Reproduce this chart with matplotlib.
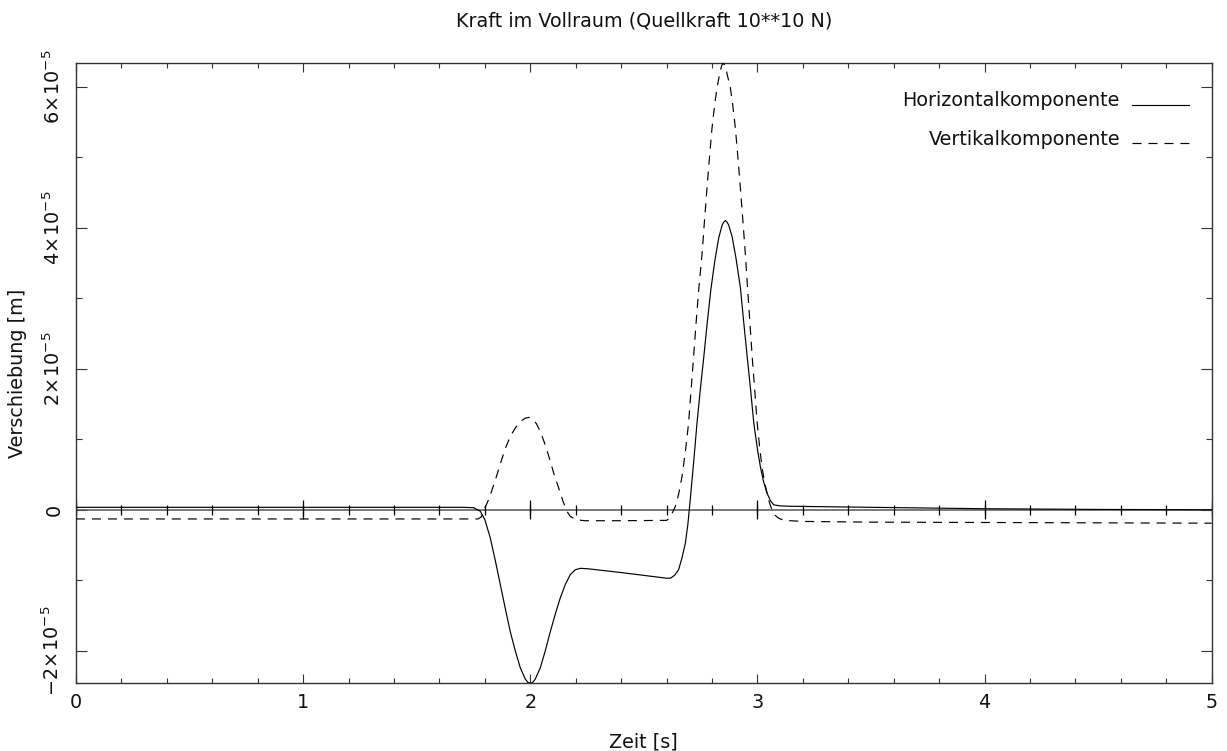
import numpy as np
import matplotlib
matplotlib.use("Agg")
import matplotlib.pyplot as plt
from matplotlib.ticker import MultipleLocator, FuncFormatter

plt.rcParams['font.family'] = ['DejaVu Sans']
plt.rcParams['mathtext.fontset'] = 'dejavusans'
plt.rcParams['lines.scale_dashes'] = False

# Displacement in units of 1e-5 m
UNIT = 1e-5

t_horiz = [0.0, 1.0, 1.70, 1.75, 1.78, 1.80, 1.824, 1.846, 1.868, 1.89, 1.912,
           1.934, 1.956, 1.978, 1.99, 2.0, 2.01, 2.022, 2.044, 2.066, 2.088, 2.11, 2.132,
           2.154, 2.176, 2.198, 2.22, 2.25, 2.4, 2.55, 2.60, 2.617, 2.635,
           2.653, 2.668, 2.683, 2.694, 2.703, 2.72, 2.734, 2.75, 2.764, 2.778,
           2.795, 2.812, 2.83, 2.845, 2.852, 2.859, 2.866, 2.873, 2.888, 2.905, 2.925, 2.94,
           2.955, 2.97, 2.984, 3.0, 3.013, 3.027, 3.042, 3.057, 3.072, 3.10,
           3.145, 3.5, 4.0, 4.5, 5.0]
v_horiz = [0.035, 0.035, 0.035, 0.03, -0.02, -0.14, -0.40, -0.72, -1.06, -1.40,
           -1.73, -2.00, -2.24, -2.40, -2.45, -2.46, -2.45, -2.40, -2.24, -2.00, -1.73, -1.48,
           -1.25, -1.06, -0.92, -0.85, -0.83, -0.835, -0.89, -0.95, -0.97, -0.97,
           -0.93, -0.85, -0.68, -0.47, -0.20, 0.10, 0.70, 1.23, 1.75, 2.17, 2.62,
           3.12, 3.52, 3.86, 4.04, 4.08, 4.10, 4.08, 4.04, 3.88, 3.58, 3.15, 2.65,
           2.17, 1.70, 1.23, 0.86, 0.61, 0.40, 0.24, 0.13, 0.07, 0.055,
           0.05, 0.035, 0.015, 0.005, 0.0]

t_vert = [0.0, 1.0, 1.77, 1.785, 1.794, 1.82, 1.846, 1.868, 1.89, 1.912, 1.934,
          1.956, 1.978, 1.993, 2.01, 2.027, 2.044, 2.066, 2.088, 2.105, 2.125,
          2.143, 2.161, 2.175, 2.19, 2.21, 2.242, 2.4, 2.6, 2.609, 2.62, 2.639,
          2.653, 2.668, 2.683, 2.697, 2.708, 2.719, 2.73, 2.741, 2.756, 2.767,
          2.778, 2.789, 2.80, 2.811, 2.822, 2.836, 2.843, 2.849, 2.855, 2.862, 2.881, 2.892,
          2.903, 2.914, 2.925, 2.936, 2.947, 2.958, 2.968, 2.977, 2.988, 2.999,
          3.01, 3.02, 3.031, 3.042, 3.053, 3.064, 3.078, 3.094, 3.116, 3.2,
          3.5, 4.0, 4.5, 5.0]
v_vert = [-0.13, -0.13, -0.13, -0.10, -0.02, 0.17, 0.42, 0.65, 0.87, 1.04, 1.16,
          1.25, 1.30, 1.31, 1.29, 1.22, 1.11, 0.92, 0.69, 0.50, 0.31,
          0.13, -0.02, -0.09, -0.12, -0.145, -0.155, -0.155, -0.15, -0.13, -0.08, 0.05,
          0.22, 0.47, 0.83, 1.23, 1.70, 2.17, 2.65, 3.10, 3.62, 4.10,
          4.56, 5.00, 5.41, 5.72, 5.98, 6.22, 6.30, 6.33, 6.31, 6.24, 5.98, 5.72,
          5.41, 5.00, 4.56, 4.10, 3.62, 3.08, 2.60, 2.17, 1.70, 1.23,
          0.88, 0.61, 0.40, 0.24, 0.10, 0.0, -0.08, -0.12, -0.15, -0.165,
          -0.175, -0.18, -0.185, -0.19]

x_major_ticks = [0, 1, 2, 3, 4, 5]
x_minor_step = 0.2
y_major_step = 2      # in units of 1e-5 m
title_text = "Kraft im Vollraum (Quellkraft 10**10 N)"
xlabel_text = "Zeit [s]"
ylabel_text = "Verschiebung [m]"
legend_labels = ["Horizontalkomponente", "Vertikalkomponente"]

th = np.array(t_horiz)
yh = np.array(v_horiz) * UNIT
tv = np.array(t_vert)
yv = np.array(v_vert) * UNIT

W, H = 1227, 751
fig = plt.figure(figsize=(W / 100, H / 100), dpi=100)
left, right, top, bottom = 76 / W, 1211.7 / W, 63.3 / H, 683.3 / H
ax = fig.add_axes([left, 1 - bottom, right - left, bottom - top])

FS = 13.8
TXT = '#111111'
AXC = '#333333'

ax.plot(th, yh, color='black', lw=0.85, solid_joinstyle='round', zorder=3)
ax.plot(tv, yv, color='black', lw=0.85, dashes=(6.5, 5.0), zorder=3)

ax.set_xlim(min(x_major_ticks), max(x_major_ticks))
ymin = min(yh.min(), yv.min())
ymax = max(yh.max(), yv.max())
ax.set_ylim(ymin, ymax)

ax.xaxis.set_major_locator(MultipleLocator(1))
ax.xaxis.set_minor_locator(MultipleLocator(x_minor_step))
ax.yaxis.set_major_locator(MultipleLocator(y_major_step * UNIT))
ax.yaxis.set_minor_locator(MultipleLocator(UNIT))


def yfmt(val, pos):
    n = int(round(val / UNIT))
    if n == 0:
        return '0'
    return r'$%s\!\times\!10^{-5}$' % ('\u2212%d' % -n if n < 0 else '%d' % n)


ax.yaxis.set_major_formatter(FuncFormatter(yfmt))
ax.xaxis.set_major_formatter(FuncFormatter(lambda v, p: '%d' % round(v)))

ax.tick_params(which='both', direction='in', top=True, right=True,
               color=AXC, width=0.8, labelsize=FS, labelcolor=TXT)
ax.tick_params(axis='x', which='major', length=6.5, pad=7)
ax.tick_params(axis='x', which='minor', length=3.6)
ax.tick_params(axis='y', which='major', length=7.7, pad=9)
ax.tick_params(axis='y', which='minor', length=4.0)
for lab in ax.get_yticklabels():
    lab.set_rotation(90)
    lab.set_va('center')
    lab.set_ha('right')
for sp in ax.spines.values():
    sp.set_color(AXC)
    sp.set_linewidth(1.0)

# Axis through y = 0, with tick marks crossing it at the x tick positions
ax.axhline(0.0, color='#555555', lw=1.1, zorder=2)
xmaj = np.array(x_major_ticks, dtype=float)
xmin_ = np.arange(xmaj[0], xmaj[-1] + 1e-9, x_minor_step)
ax.vlines(xmin_, -0.07 * UNIT, 0.07 * UNIT, color='black', lw=0.9, zorder=2.5)
ax.vlines(xmaj, -0.135 * UNIT, 0.135 * UNIT, color='black', lw=0.9, zorder=2.5)

ax.set_title(title_text, fontsize=FS, color=TXT, y=1 + (63.3 - 21) / 620,
             va='center', pad=0)
ax.set_xlabel(xlabel_text, fontsize=FS, color=TXT, va='center')
ax.xaxis.set_label_coords(0.5, -(742 - 683.3) / 620)
ax.set_ylabel(ylabel_text, fontsize=FS, color=TXT, va='center', ha='center',
              rotation_mode='default')
ax.yaxis.set_label_coords(-(76 - 18) / 1135.7, 0.5)

# Legend: right-aligned labels followed by a line sample
tx = (1120 - 76) / 1135.7
lx0, lx1 = (1131.7 - 76) / 1135.7, (1189 - 76) / 1135.7
rows = [(0.9309, 0.9332, None), (0.8685, 0.8721, (6.5, 5.0))]
for lab, (ytxt, yline, dash) in zip(legend_labels, rows):
    ax.text(tx, ytxt, lab, transform=ax.transAxes, ha='right', va='baseline',
            fontsize=FS, color=TXT)
    kw = dict(color='black', lw=0.85, transform=ax.transAxes, clip_on=False)
    if dash:
        kw['dashes'] = dash
    ax.plot([lx0, lx1], [yline, yline], **kw)

fig.savefig('out.png', dpi=100)
